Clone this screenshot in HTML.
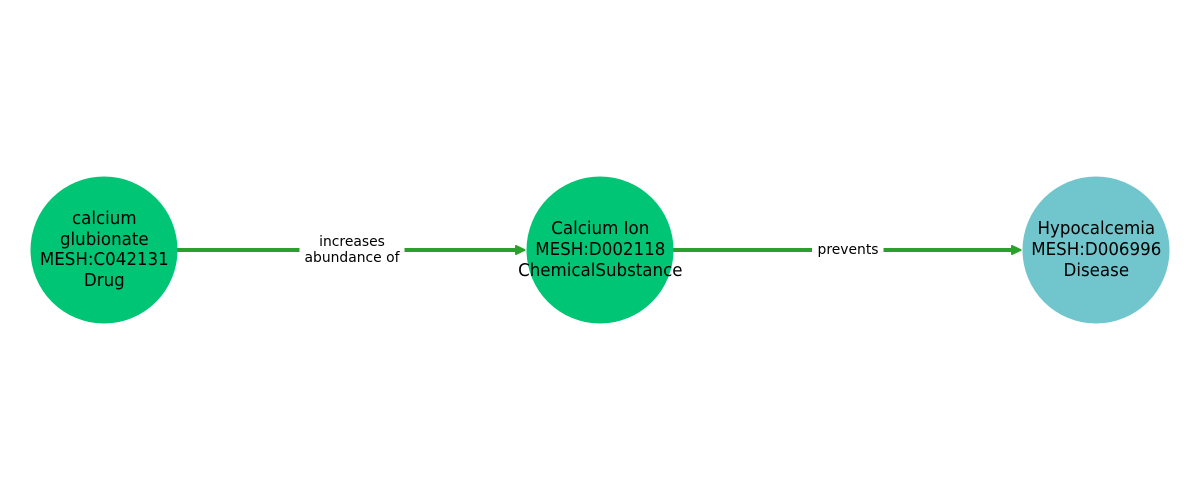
<!DOCTYPE html>
<html>
<head>
<meta charset="utf-8">
<style>
html,body{margin:0;padding:0;background:#fff;}
svg{display:block;}
text{font-family:"DejaVu Sans",sans-serif;fill:#000;text-anchor:middle;}
.n{font-size:16.67px;}
.e{font-size:13.89px;}
</style>
</head>
<body>
<svg width="1200" height="500" viewBox="0 0 1200 500" xmlns="http://www.w3.org/2000/svg">
<rect width="1200" height="500" fill="#fff"/>
<!-- edges -->
<line x1="170" y1="250" x2="518" y2="250" stroke="#2ca02c" stroke-width="4"/>
<path d="M524.500 250 L516 246 L516 254 Z" fill="#2ca02c" stroke="#2ca02c" stroke-width="2" stroke-linejoin="round"/>
<line x1="666" y1="250" x2="1014" y2="250" stroke="#2ca02c" stroke-width="4"/>
<path d="M1020.500 250 L1012 246 L1012 254 Z" fill="#2ca02c" stroke="#2ca02c" stroke-width="2" stroke-linejoin="round"/>
<!-- edge label backgrounds -->
<rect x="299.500" y="232" width="105" height="36" fill="#fff"/>
<rect x="812" y="240" width="71.500" height="20" fill="#fff"/>
<!-- nodes -->
<circle cx="104" cy="250" r="73.500" fill="#00c574"/>
<circle cx="600" cy="250" r="73.500" fill="#00c574"/>
<circle cx="1096" cy="250" r="73.500" fill="#70c6cc"/>
<!-- node labels -->
<text class="n" transform="translate(104.300,224) scale(1,1.05)">calcium</text>
<text class="n" transform="translate(104.300,245) scale(1,1.05)">glubionate</text>
<text class="n" transform="translate(104.300,265) scale(1,1.05)">MESH:C042131</text>
<text class="n" transform="translate(104.300,286) scale(1,1.05)">Drug</text>
<text class="n" transform="translate(600.300,234) scale(1,1.05)">Calcium Ion</text>
<text class="n" transform="translate(600.300,255) scale(1,1.05)">MESH:D002118</text>
<text class="n" transform="translate(600.300,276) scale(1,1.05)">ChemicalSubstance</text>
<text class="n" transform="translate(1096.300,234) scale(1,1.05)">Hypocalcemia</text>
<text class="n" transform="translate(1096.300,255) scale(1,1.05)">MESH:D006996</text>
<text class="n" transform="translate(1096.300,276) scale(1,1.05)">Disease</text>
<!-- edge labels -->
<text class="e" transform="translate(352,246) scale(1,1.05)">increases</text>
<text class="e" transform="translate(352,262) scale(1,1.05)">abundance of</text>
<text class="e" transform="translate(848,254) scale(1,1.05)">prevents</text>
</svg>
</body>
</html>
